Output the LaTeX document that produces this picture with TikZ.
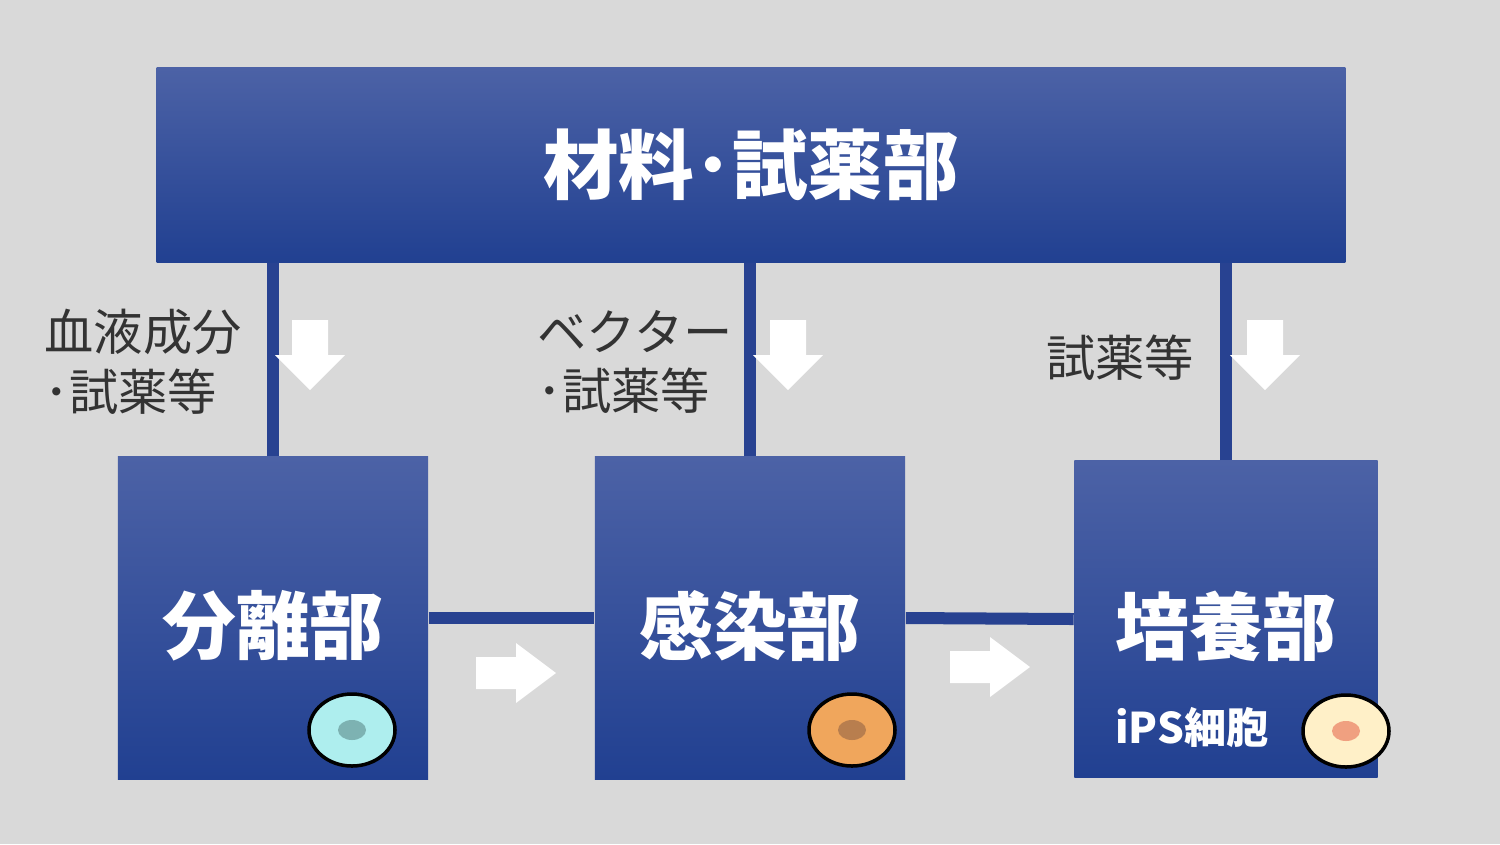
\documentclass[tikz,border=0pt]{standalone}
\usepackage{fontspec}
\setmainfont{Noto Sans CJK JP}
\usepackage{tikz}
\usetikzlibrary{positioning, calc}
\definecolor{bggray}{RGB}{217,217,217}
\definecolor{boxtop}{RGB}{76,98,166}
\definecolor{boxbot}{RGB}{33,64,145}
\definecolor{linkblue}{RGB}{40,66,145}
\definecolor{cellcyan}{RGB}{174,238,238}
\definecolor{nuccyan}{RGB}{125,178,178}
\definecolor{cellorange}{RGB}{240,166,92}
\definecolor{nucorange}{RGB}{184,126,78}
\definecolor{cellcream}{RGB}{255,240,200}
\definecolor{nuccream}{RGB}{240,160,128}
\tikzset{
  unit/.style={rectangle, inner sep=0pt, top color=boxtop, bottom color=boxbot,
    text=white, font=\bfseries\fontsize{21}{21}\selectfont},
  title/.style={text=white, font=\bfseries\fontsize{21}{21}\selectfont},
  link/.style={linkblue, line width=0.12cm},
  label/.style={font=\fontsize{14}{17}\selectfont, text=black!80, align=left},
  cell/.style={line width=1pt},
  downarrow/.pic={\fill[white] (-18,-35) -- (18,-35) -- (18,0) -- (35,0) -- (0,35) -- (-35,0) -- (-18,0) -- cycle;},
  rightarrow/.pic={\fill[white] (-40,-16) -- (0,-16) -- (0,-30) -- (40,0) -- (0,30) -- (0,16) -- (-40,16) -- cycle;}
}
\begin{document}
\begin{tikzpicture}[x=0.01cm, y=-0.01cm]
    \useasboundingbox[fill=bggray] (0,0) rectangle (1500,844);
    % Units
    \node[unit, minimum width=11.88cm, minimum height=1.94cm, font=\bfseries\fontsize{21.5}{22}\selectfont] (top) at (751,165) {材料･試薬部};
    \node[unit, minimum width=3.1cm, minimum height=3.22cm] (sep) at (273,618) {};
    \node[unit, minimum width=3.1cm, minimum height=3.22cm] (inf) at (750,618) {};
    \node[unit, minimum width=3.03cm, minimum height=3.16cm] (cul) at (1226,619) {};
    \node[title] at (273,626) {分離部};
    \node[title] at (750,626) {感染部};
    \node[title] at (1226,626) {培養部};
    \node[text=white, font=\bfseries\fontsize{12}{12}\selectfont] (ips) at (1192,728) {iPS細胞};

    % Links
    \draw[link] (sep.north) -- (sep.north |- top.south);
    \draw[link] (inf.north) -- (inf.north |- top.south);
    \draw[link] (cul.north) -- (cul.north |- top.south);
    \draw[link] (sep.east) -- (inf.west);
    \draw[link] (inf.east) -- (cul.west);

    % Flow arrows
    \pic at (310,355) {downarrow};
    \pic at (788,355) {downarrow};
    \pic at (1265,355) {downarrow};
    \pic at (516,673) {rightarrow};
    \pic at (990,667) {rightarrow};

    % Labels
    \node[label] (lab1) at (143,362) {血液成分\\･試薬等};
    \node[label] (lab2) at (635,362) {ベクター\\･試薬等};
    \node[label] (lab3) at (1120,358) {試薬等};

    % Cells
    \draw[cell, fill=cellcyan] (352,730) ellipse (43 and 36);
    \fill[nuccyan] (352,730) ellipse (14 and 10);
    \draw[cell, fill=cellorange] (852,730) ellipse (43 and 36);
    \fill[nucorange] (852,730) ellipse (14 and 10);
    \draw[cell, fill=cellcream] (1346,731) ellipse (43 and 36);
    \fill[nuccream] (1346,731) ellipse (14 and 10);
\end{tikzpicture}
\end{document}
